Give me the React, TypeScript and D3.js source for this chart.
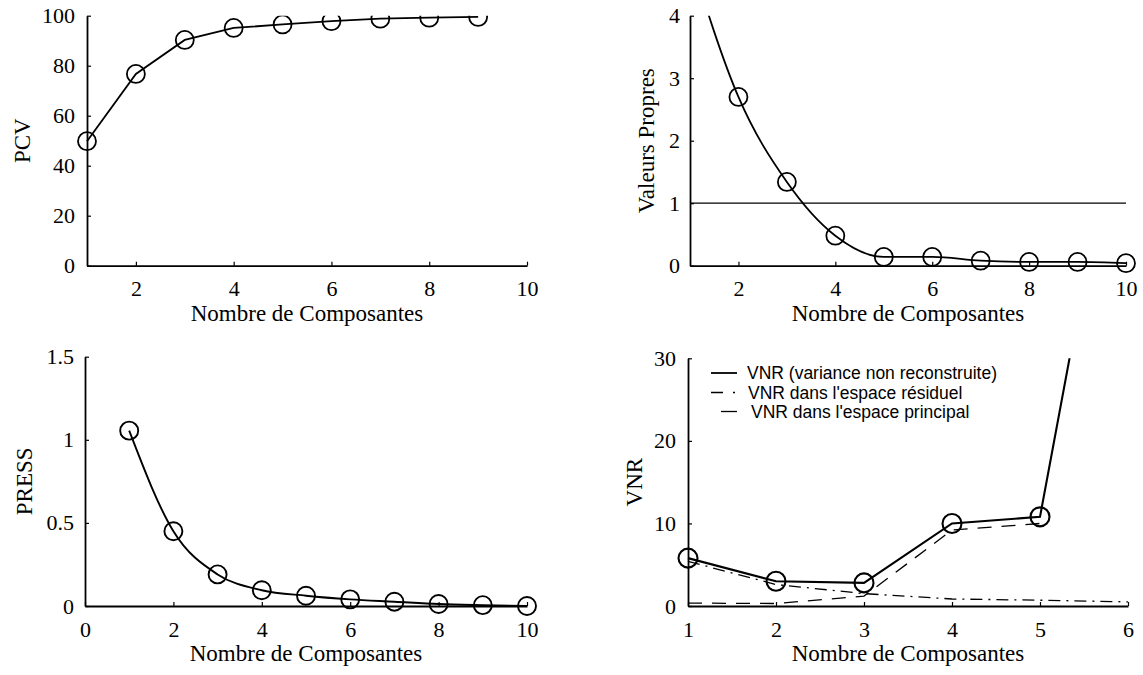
import * as d3 from 'd3'
import { useEffect, useRef } from 'react'

// values
const pcvComponents = [1, 2, 3, 4, 5, 6, 7, 8, 9]
const pcvValues = [49.8, 76.7, 90.3, 95.1, 96.5, 97.8, 98.8, 99.2, 99.5]

const eigenComponents = [1, 2, 3, 4, 5, 6, 7, 8, 9, 10]
const eigenValues = [4.95, 2.7, 1.34, 0.48, 0.14, 0.14, 0.08, 0.06, 0.06, 0.04]
const eigenThreshold = 1

const pressComponents = [1, 2, 3, 4, 5, 6, 7, 8, 9, 10]
const pressValues = [1.055, 0.45, 0.19, 0.095, 0.062, 0.04, 0.026, 0.012, 0.005, 0.0]

const vnrComponents = [1, 2, 3, 4, 5, 6]
const vnrTotal = [5.8, 3.0, 2.8, 10.0, 10.8, 68]
const vnrResidual = [5.4, 2.6, 1.5, 0.85, 0.7, 0.5]
const principalComponents = [1, 2, 3, 4, 5]
const vnrPrincipal = [0.35, 0.3, 1.2, 9.2, 10.0]

const xTitle = 'Nombre de Composantes'
const legendLabels = [
  'VNR (variance non reconstruite)',
  "VNR dans l'espace résiduel",
  "VNR dans l'espace principal",
]

const SERIF = '"Liberation Serif", "Times New Roman", serif'
const SANS = '"Liberation Sans", Arial, sans-serif'

interface Panel {
  id: string
  left: number
  right: number
  top: number
  bottom: number
  xDomain: [number, number]
  yDomain: [number, number]
  xTicks: number[]
  yTicks: number[]
  yLabel: string
  yLabelX: number
  yPad: number
}

const panels: Panel[] = [
  {
    id: 'pcv', left: 87, right: 527, top: 15.7, bottom: 265.7,
    xDomain: [1, 10], yDomain: [0, 100],
    xTicks: [2, 4, 6, 8, 10], yTicks: [0, 20, 40, 60, 80, 100],
    yLabel: 'PCV', yLabelX: 30, yPad: 12,
  },
  {
    id: 'eigen', left: 690, right: 1126, top: 15.7, bottom: 265.7,
    xDomain: [1, 10], yDomain: [0, 4],
    xTicks: [2, 4, 6, 8, 10], yTicks: [0, 1, 2, 3, 4],
    yLabel: 'Valeurs Propres', yLabelX: 654, yPad: 10,
  },
  {
    id: 'press', left: 85, right: 527, top: 356.7, bottom: 606,
    xDomain: [0, 10], yDomain: [0, 1.5],
    xTicks: [0, 2, 4, 6, 8, 10], yTicks: [0, 0.5, 1, 1.5],
    yLabel: 'PRESS', yLabelX: 32, yPad: 11,
  },
  {
    id: 'vnr', left: 688, right: 1128, top: 358.3, bottom: 606,
    xDomain: [1, 6], yDomain: [0, 30],
    xTicks: [1, 2, 3, 4, 5, 6], yTicks: [0, 10, 20, 30],
    yLabel: 'VNR', yLabelX: 642, yPad: 12,
  },
]

function drawPanel(root: d3.Selection<SVGSVGElement, unknown, null, undefined>, p: Panel) {
  const x = d3.scaleLinear().domain(p.xDomain).range([p.left, p.right])
  const y = d3.scaleLinear().domain(p.yDomain).range([p.bottom, p.top])

  const g = root.append('g')

  g.append('clipPath')
    .attr('id', `clip-${p.id}`)
    .append('rect')
    .attr('x', p.left - 20)
    .attr('y', p.top)
    .attr('width', p.right - p.left + 40)
    .attr('height', p.bottom - p.top + 20)

  const xAxis = g
    .append('g')
    .attr('transform', `translate(0,${p.bottom})`)
    .call(
      d3
        .axisBottom(x)
        .tickValues(p.xTicks)
        .tickSizeInner(-4)
        .tickSizeOuter(0)
        .tickPadding(15)
        .tickFormat((d) => String(d))
    )

  const yAxis = g
    .append('g')
    .attr('transform', `translate(${p.left},0)`)
    .call(
      d3
        .axisLeft(y)
        .tickValues(p.yTicks)
        .tickSizeInner(-4)
        .tickSizeOuter(0)
        .tickPadding(p.yPad)
        .tickFormat((d) => String(d))
    )

  for (const axis of [xAxis, yAxis]) {
    axis.attr('font-family', SERIF).attr('font-size', 22)
    axis.select('.domain').attr('stroke', '#000').attr('stroke-width', 1.8)
    axis.selectAll('.tick line').attr('stroke', '#000').attr('stroke-width', 1.2)
    axis.selectAll('.tick text').attr('fill', '#000')
  }

  // axis titles
  g.append('text')
    .attr('x', (p.left + p.right) / 2)
    .attr('y', p.bottom + 55)
    .attr('text-anchor', 'middle')
    .attr('font-family', SERIF)
    .attr('font-size', 23)
    .attr('fill', '#000')
    .text(xTitle)

  g.append('text')
    .attr('transform', `translate(${p.yLabelX},${(p.top + p.bottom) / 2}) rotate(-90)`)
    .attr('text-anchor', 'middle')
    .attr('font-family', SERIF)
    .attr('font-size', 23)
    .attr('fill', '#000')
    .text(p.yLabel)

  const plot = g.append('g').attr('clip-path', `url(#clip-${p.id})`)

  return { x, y, plot }
}

function drawSeries(
  plot: d3.Selection<SVGGElement, unknown, null, undefined>,
  x: d3.ScaleLinear<number, number>,
  y: d3.ScaleLinear<number, number>,
  xs: number[],
  ys: number[],
  opts: { curve?: d3.CurveFactory; width?: number; dash?: string; markers?: boolean; r?: number }
) {
  const pts = xs.map((v, i) => [v, ys[i]] as [number, number])
  const line = d3
    .line<[number, number]>()
    .x((d) => x(d[0]))
    .y((d) => y(d[1]))
    .curve(opts.curve ?? d3.curveLinear)

  plot
    .append('path')
    .datum(pts)
    .attr('fill', 'none')
    .attr('stroke', '#000')
    .attr('stroke-width', opts.width ?? 1.8)
    .attr('stroke-dasharray', opts.dash ?? null)
    .attr('d', line)

  if (opts.markers) {
    plot
      .selectAll('.marker')
      .data(pts)
      .enter()
      .append('circle')
      .attr('cx', (d) => x(d[0]))
      .attr('cy', (d) => y(d[1]))
      .attr('r', opts.r ?? 9)
      .attr('fill', 'none')
      .attr('stroke', '#000')
      .attr('stroke-width', opts.width ?? 1.8)
  }
}

export default function App() {
  const svgRef = useRef<SVGSVGElement>(null)

  useEffect(() => {
    if (!svgRef.current) return
    const svg = d3.select(svgRef.current)
    svg.selectAll('*').remove()

    // PCV
    const a = drawPanel(svg, panels[0])
    drawSeries(a.plot, a.x, a.y, pcvComponents, pcvValues, { markers: true })

    // eigenvalues + Kaiser line
    const b = drawPanel(svg, panels[1])
    b.plot
      .append('line')
      .attr('x1', b.x(1))
      .attr('x2', b.x(10))
      .attr('y1', b.y(eigenThreshold))
      .attr('y2', b.y(eigenThreshold))
      .attr('stroke', '#000')
      .attr('stroke-width', 1.3)
    drawSeries(b.plot, b.x, b.y, eigenComponents, eigenValues, {
      markers: true,
      curve: d3.curveMonotoneX,
    })

    // PRESS
    const c = drawPanel(svg, panels[2])
    drawSeries(c.plot, c.x, c.y, pressComponents, pressValues, {
      markers: true,
      curve: d3.curveMonotoneX,
      width: 1.9,
    })

    // VNR
    const dd = drawPanel(svg, panels[3])
    drawSeries(dd.plot, dd.x, dd.y, vnrComponents, vnrResidual, { dash: '12,6,2,6', width: 1.3 })
    drawSeries(dd.plot, dd.x, dd.y, principalComponents, vnrPrincipal, { dash: '14,10', width: 1.3 })
    drawSeries(dd.plot, dd.x, dd.y, vnrComponents, vnrTotal, { markers: true, width: 2.1, r: 9.5 })

    // legend
    const legend = svg.append('g').attr('font-family', SANS).attr('font-size', 17.5)
    const rows = [
      { y: 379, lx0: 711, lx1: 737, dash: null as string | null, tx: 747 },
      { y: 398.5, lx0: 711, lx1: 736, dash: '12,10,2,10', tx: 748 },
      { y: 417.5, lx0: 721, lx1: 737, dash: null as string | null, tx: 751 },
    ]
    rows.forEach((row, i) => {
      legend
        .append('line')
        .attr('x1', row.lx0)
        .attr('x2', row.lx1)
        .attr('y1', row.y - 6)
        .attr('y2', row.y - 6)
        .attr('stroke', '#000')
        .attr('stroke-width', i === 0 ? 1.8 : 1.3)
        .attr('stroke-dasharray', row.dash)
      legend
        .append('text')
        .attr('x', row.tx)
        .attr('y', row.y)
        .attr('fill', '#000')
        .text(legendLabels[i])
    })
  }, [])

  return (
    <svg
      ref={svgRef}
      width={1143}
      height={675}
      style={{ position: 'absolute', left: 0, top: 0, background: '#fff' }}
    />
  )
}
